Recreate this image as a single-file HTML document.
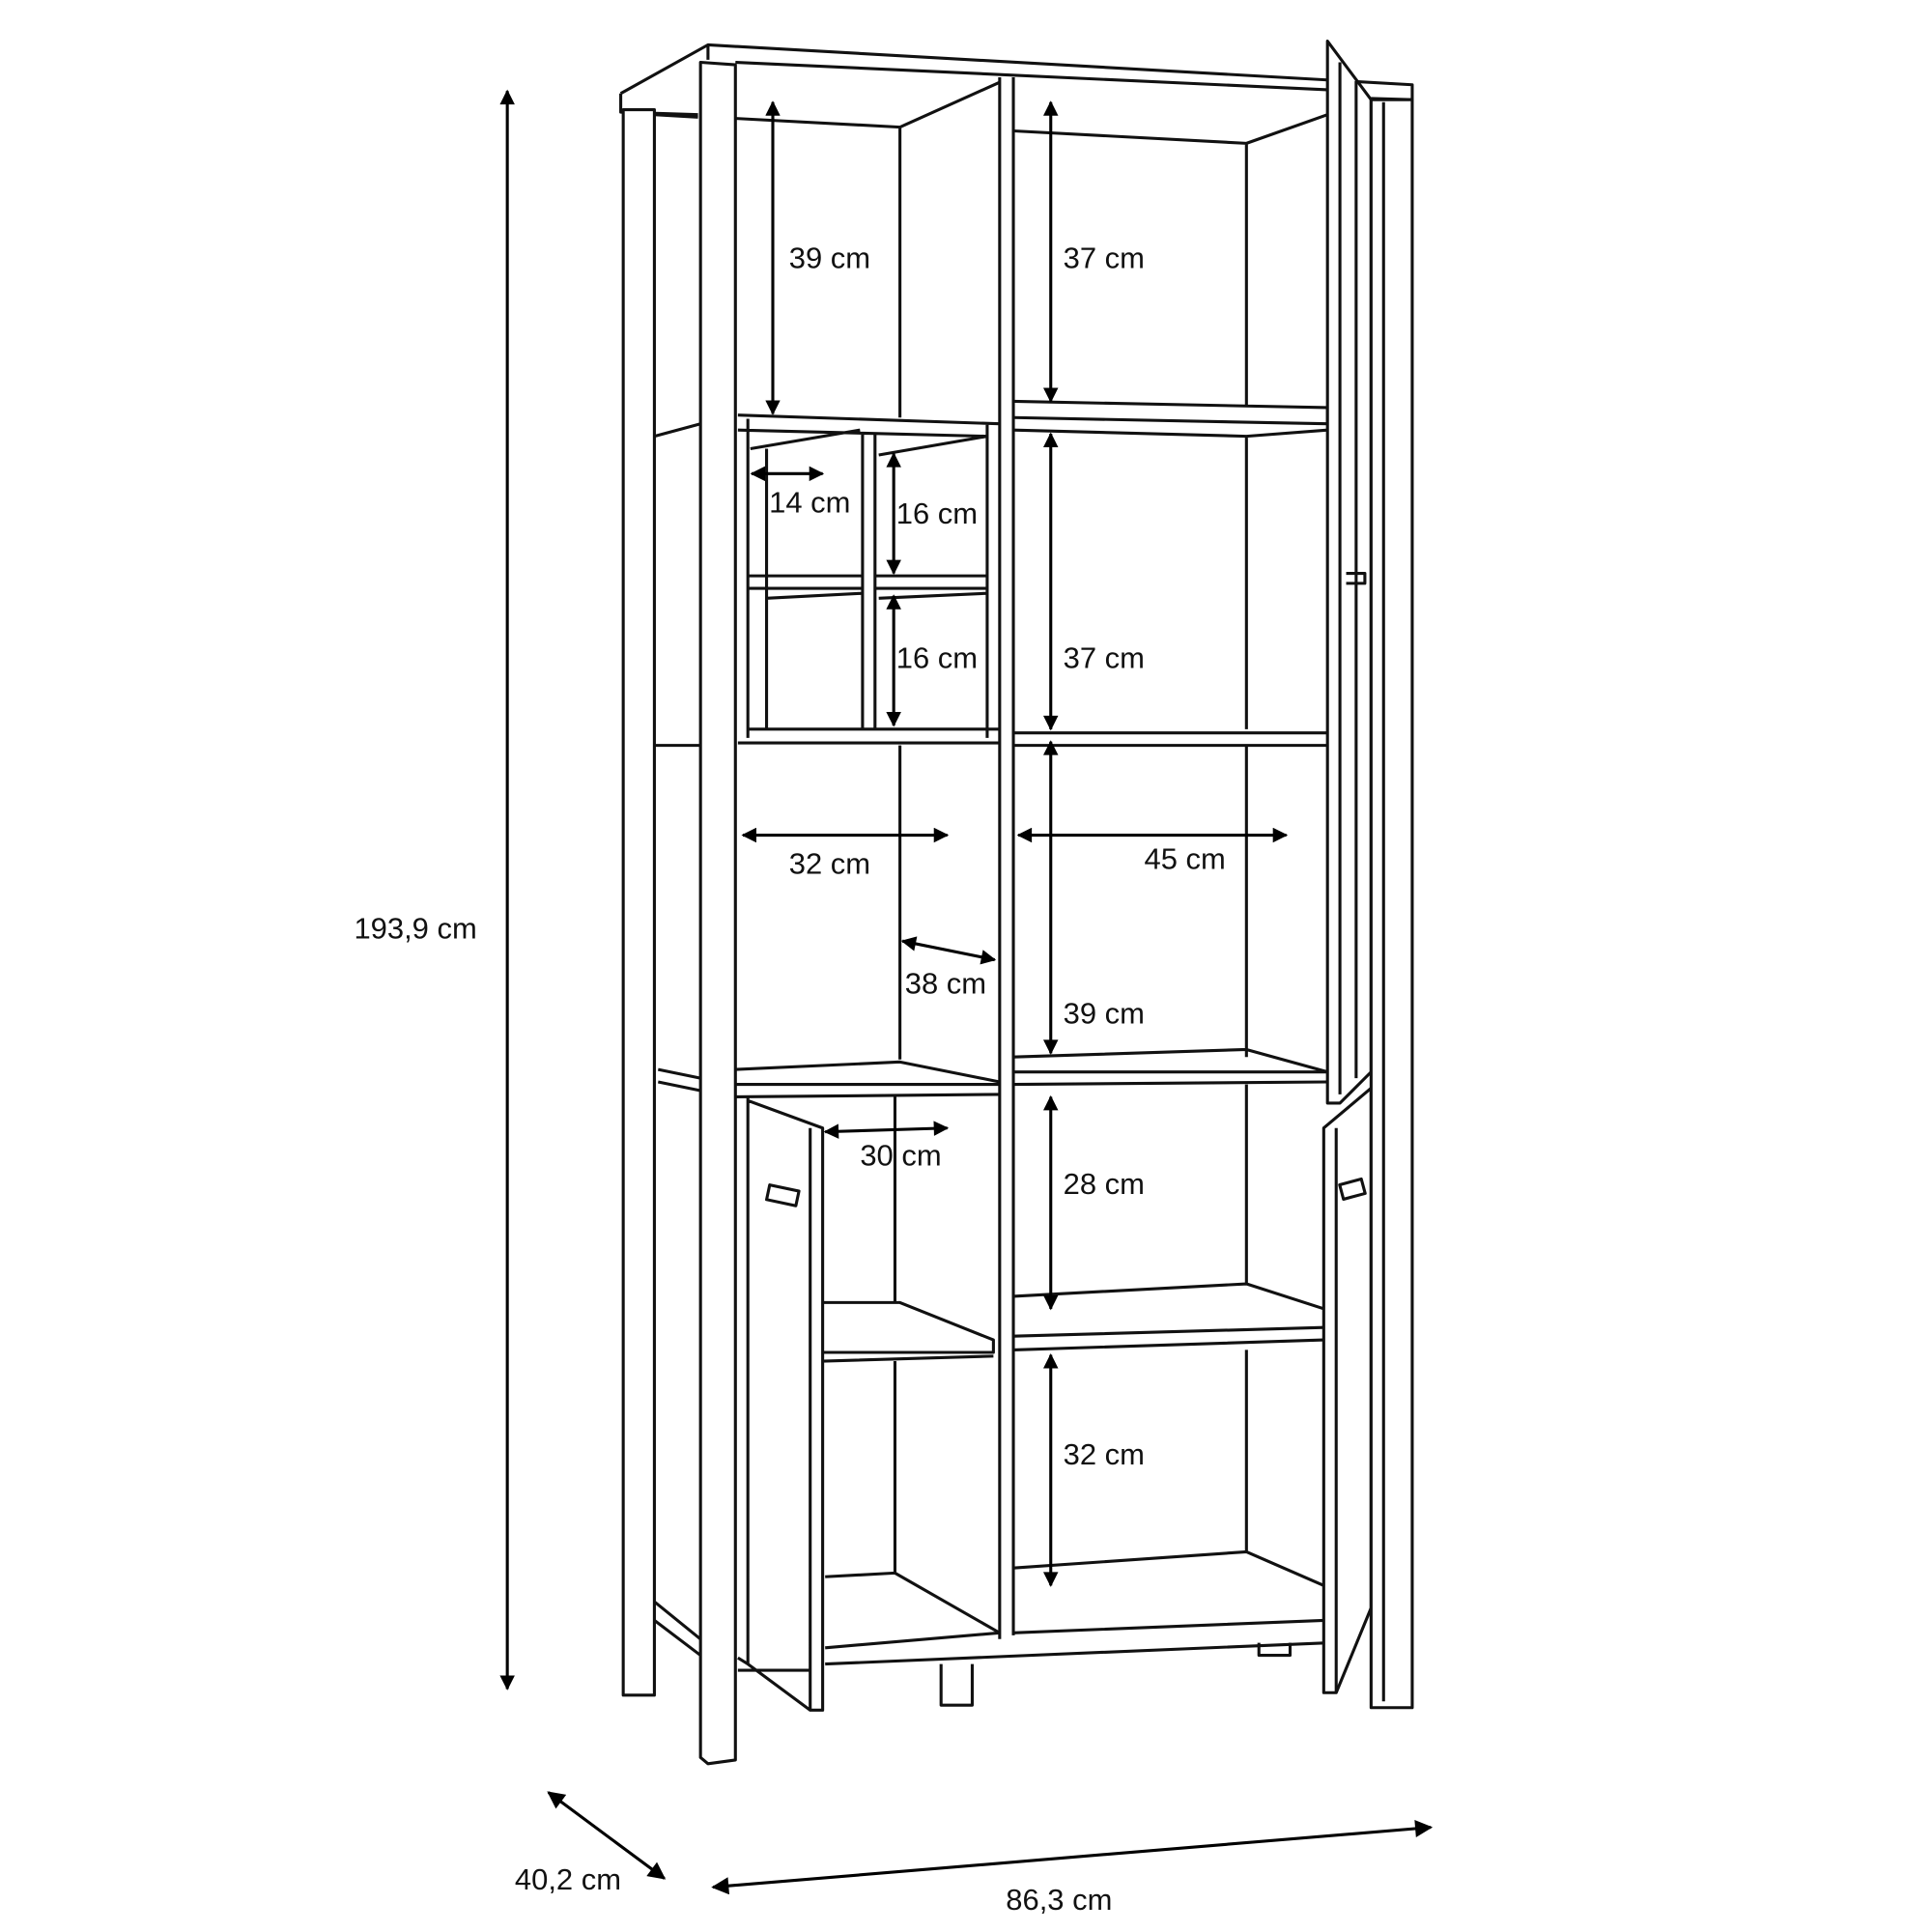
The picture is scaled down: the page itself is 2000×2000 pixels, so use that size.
<!DOCTYPE html>
<html><head><style>html,body{margin:0;padding:0;background:#fff}svg{display:block}text{font-family:"Liberation Sans",sans-serif;font-size:24px;fill:#111}</style></head>
<body>
<svg width="2000" height="2000" viewBox="0 0 1550 1550" xmlns="http://www.w3.org/2000/svg">
<defs>
<marker id="a" viewBox="0 0 10 10" refX="9" refY="5" markerWidth="16" markerHeight="12" orient="auto-start-reverse" markerUnits="userSpaceOnUse"><path d="M0,0 L10,5 L0,10 Z" fill="#000"/></marker>
<marker id="b" viewBox="0 0 10 10" refX="9" refY="5" markerWidth="20" markerHeight="14" orient="auto-start-reverse" markerUnits="userSpaceOnUse"><path d="M0,0 L10,5 L0,10 Z" fill="#000"/></marker>
</defs>
<g fill="none" stroke="#111" stroke-width="2.4" stroke-linejoin="round">
<path d="M498,75 L568,36 L1133,68 L1133,80 L1100,79 M568,36 L568,48 M498,75 L498,90 L560,92"/>
<line x1="590" y1="50" x2="1065" y2="72"/>
<rect x="500" y="88" width="25" height="1272" fill="#fff"/>
<path d="M525,92 L560,94"/>
<path d="M525,350 L562,340 M525,598 L562,598 M528,858 L562,865 M528,868 L562,875 M525,1285 L562,1315 M525,1300 L562,1328"/>
<path d="M562,50 L590,52 L590,1412 L568,1415 L562,1410 Z" fill="#fff"/>
<path d="M590,95 L722,102 L802,66 M722,102 L722,335"/>
<path d="M592,333 L802,340 M592,345 L792,350 M600,336 L600,592 M792,340 L792,592 M602,360 L690,345 M615,360 L615,585 M692,347 L692,585 M702,347 L702,585 M705,365 L792,350 M600,462 L692,462 M600,472 L692,472 M702,462 L792,462 M702,472 L792,472 M615,480 L692,476 M705,480 L792,476 M600,585 L802,585 M592,596 L802,596"/>
<path d="M722,598 L722,850 M590,858 L722,852 L802,868 M590,870 L802,870 M590,880 L802,878"/>
<path d="M600,880 L600,1335 M600,883 L660,905 L660,1372 L650,1372 L600,1335 M650,1372 L650,905 M660,1045 L722,1045 L797,1075 L797,1085 L660,1085 M660,1092 L797,1088 M718,880 L718,1045 M718,1092 L718,1262 M662,1265 L718,1262 L802,1310 M662,1322 L802,1310 M662,1335 L1065,1318 M592,1330 L600,1335 M592,1340 L650,1340"/>
<rect x="616" y="953" width="24" height="12" transform="rotate(12 628 959)"/>
<path d="M755,1335 L755,1368 L780,1368 L780,1335 M1010,1318 L1010,1328 L1035,1328 L1035,1318"/>
<path d="M802,62 L802,1315 M813,62 L813,1312"/>
<path d="M813,105 L1000,115 L1065,92 M1000,115 L1000,325 M813,322 L1065,327 L1065,340 L813,335 M813,345 L1000,350 L1065,345 M1000,350 L1000,585 M813,588 L1065,588 M813,598 L1065,598 M1000,598 L1000,848 M813,848 L1000,842 L1065,860 M813,860 L1065,860 M813,870 L1065,868 M1000,870 L1000,1030 M813,1040 L1000,1030 L1062,1050 M813,1072 L1062,1065 M813,1083 L1062,1075 M1000,1083 L1000,1245 M813,1258 L1000,1245 L1062,1272 M813,1310 L1062,1300"/>
<path d="M1065,33 L1100,80 L1100,860 L1075,885 L1065,885 Z" fill="#fff"/>
<path d="M1075,50 L1075,878 M1088,65 L1088,865 M1080,460 L1095,460 L1095,468 L1080,468"/>
<path d="M1062,905 L1100,873 L1100,1290 L1072,1358 L1062,1358 Z" fill="#fff"/>
<path d="M1072,905 L1072,1358"/>
<rect x="1076" y="948" width="18" height="12" transform="rotate(-15 1085 954)"/>
<rect x="1100" y="80" width="33" height="1290" fill="#fff"/>
<path d="M1110,82 L1110,1365"/>
</g>
<g stroke="#000" stroke-width="2.4" marker-start="url(#a)" marker-end="url(#a)">
<line x1="407" y1="73" x2="407" y2="1355"/>
<line x1="620" y1="82" x2="620" y2="332"/>
<line x1="843" y1="82" x2="843" y2="322"/>
<line x1="843" y1="348" x2="843" y2="585"/>
<line x1="843" y1="595" x2="843" y2="845"/>
<line x1="843" y1="880" x2="843" y2="1050"/>
<line x1="843" y1="1087" x2="843" y2="1272"/>
<line x1="603" y1="380" x2="660" y2="380"/>
<line x1="717" y1="364" x2="717" y2="460"/>
<line x1="717" y1="478" x2="717" y2="582"/>
<line x1="596" y1="670" x2="760" y2="670"/>
<line x1="817" y1="670" x2="1032" y2="670"/>
<line x1="724" y1="755" x2="798" y2="770"/>
<line x1="662" y1="908" x2="760" y2="905"/>
</g>
<g stroke="#000" stroke-width="2.4" marker-start="url(#b)" marker-end="url(#b)">
<line x1="440" y1="1438" x2="533" y2="1507"/>
<line x1="572" y1="1514" x2="1148" y2="1466"/>
</g>
<text x="633" y="215">39 cm</text>
<text x="853" y="215">37 cm</text>
<text x="617" y="411">14 cm</text>
<text x="719" y="420">16 cm</text>
<text x="719" y="536">16 cm</text>
<text x="853" y="536">37 cm</text>
<text x="633" y="701">32 cm</text>
<text x="918" y="697">45 cm</text>
<text x="726" y="797">38 cm</text>
<text x="853" y="821">39 cm</text>
<text x="690" y="935">30 cm</text>
<text x="853" y="958">28 cm</text>
<text x="853" y="1175">32 cm</text>
<text x="284" y="753">193,9 cm</text>
<text x="413" y="1516">40,2 cm</text>
<text x="807" y="1532">86,3 cm</text>
</svg>
</body></html>
